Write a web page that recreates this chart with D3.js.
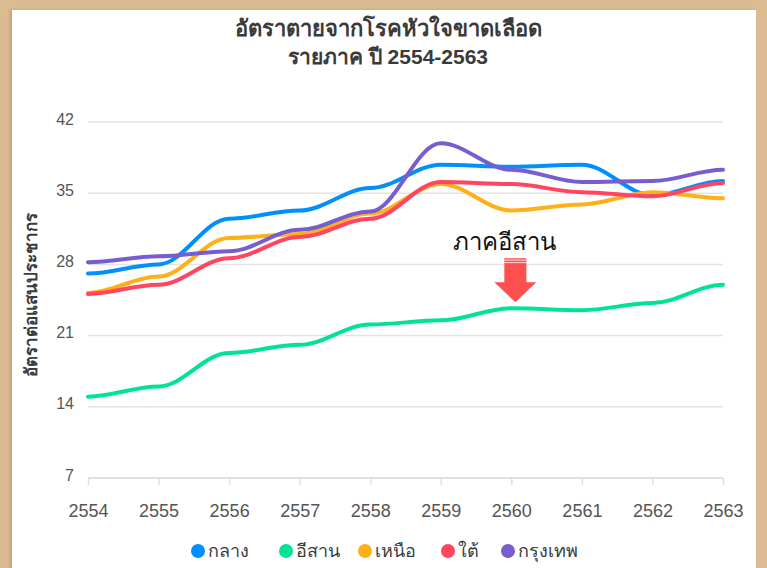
<!DOCTYPE html>
<html>
<head>
<meta charset="utf-8">
<script src="https://cdn.jsdelivr.net/npm/d3@7"></script>
<style>
  body { margin: 0; background: #dbbb91; }
  #frame { position: absolute; left: 12px; top: 10px; width: 744px; height: 570px; background: #fff; box-shadow: -2px 0 3px rgba(0,0,0,0.15); }
  svg { position: absolute; left: 0; top: 0; }
  text { font-family: "Liberation Sans", Arial, sans-serif; }
</style>
</head>
<body>
<div id="frame"></div>
<svg id="chart" width="767" height="568"></svg>
<script>
var years = [2554, 2555, 2556, 2557, 2558, 2559, 2560, 2561, 2562, 2563];
var yTicks = [7, 14, 21, 28, 35, 42];

var seriesNames = ["กลาง", "อีสาน", "เหนือ", "ใต้", "กรุงเทพ"];
var seriesColors = ["#008FFB", "#00E396", "#FEB019", "#FF4560", "#775DD0"];

var central = [27.1, 28.0, 32.5, 33.3, 35.5, 37.8, 37.6, 37.8, 34.8, 36.2];
var northeast = [15.0, 16.0, 19.3, 20.1, 22.1, 22.5, 23.7, 23.5, 24.2, 26.0];
var north = [25.2, 26.8, 30.6, 31.0, 33.0, 35.9, 33.3, 33.9, 35.1, 34.5];
var south = [25.1, 26.0, 28.6, 30.7, 32.5, 36.1, 35.9, 35.1, 34.7, 36.0];
var bangkok = [28.2, 28.8, 29.3, 31.4, 33.2, 39.9, 37.3, 36.1, 36.2, 37.3];

var seriesValues = [central, northeast, north, south, bangkok];

var svg = d3.select("#chart");

var margin = { top: 122, left: 88, right: 44, bottom: 90 };
var width = 767 - margin.left - margin.right;
var height = 568 - margin.top - margin.bottom;

var x = d3.scaleLinear().domain([years[0], years[years.length - 1]]).range([margin.left, margin.left + width]);
var y = d3.scaleLinear().domain([7, 42]).range([margin.top + height, margin.top]);

// smooth curve: horizontal tangents at each point
function SmoothX(context) { this._context = context; }
SmoothX.prototype = {
  areaStart: function() {}, areaEnd: function() {},
  lineStart: function() { this._point = 0; },
  lineEnd: function() {},
  point: function(px, py) {
    if (this._point === 0) { this._point = 1; this._context.moveTo(px, py); }
    else {
      var dx = px - this._x0;
      this._context.bezierCurveTo(this._x0 + dx * 0.35, this._y0, px - dx * 0.35, py, px, py);
    }
    this._x0 = px; this._y0 = py;
  }
};
var curveSmoothX = function(context) { return new SmoothX(context); };

// title
svg.append("text")
  .attr("x", 388).attr("y", 36)
  .attr("text-anchor", "middle")
  .attr("font-size", "22px").attr("font-weight", "bold")
  .attr("fill", "#3a3a3a")
  .text("อัตราตายจากโรคหัวใจขาดเลือด");
svg.append("text")
  .attr("x", 388).attr("y", 64)
  .attr("text-anchor", "middle")
  .attr("font-size", "21px").attr("font-weight", "bold")
  .attr("fill", "#3a3a3a")
  .text("รายภาค ปี 2554-2563");

// grid
svg.append("g")
  .selectAll("line")
  .data(yTicks.slice(1))
  .enter()
  .append("line")
  .attr("x1", x(years[0])).attr("x2", x(years[years.length - 1]))
  .attr("y1", d => y(d)).attr("y2", d => y(d))
  .attr("stroke", "#e3e3e3").attr("stroke-width", 1.5);

// y axis labels
var leftAxis = d3.axisLeft(y).tickValues(yTicks).tickSize(0).tickPadding(14);
var gy = svg.append("g")
  .attr("transform", `translate(${margin.left}, -3)`)
  .call(leftAxis);
gy.select(".domain").remove();
gy.selectAll("text").attr("font-size", "16px").attr("fill", "#555").attr("font-family", "Liberation Sans, Arial, sans-serif");

// x axis
var bottomAxis = d3.axisBottom(x).tickValues(years).tickFormat(d3.format("d")).tickSize(7).tickPadding(19);
var gx = svg.append("g")
  .attr("transform", `translate(0, ${y(7)})`)
  .call(bottomAxis);
gx.select(".domain").attr("stroke", "#e0e0e0").attr("stroke-width", 2).attr("d", `M${x(years[0])},0H${x(years[years.length - 1])}`);
gx.selectAll(".tick line").attr("stroke", "#e0e0e0").attr("stroke-width", 1.5);
gx.selectAll("text").attr("font-size", "18px").attr("fill", "#555").attr("font-family", "Liberation Sans, Arial, sans-serif");

// y axis title
svg.append("text")
  .attr("transform", `translate(37, ${y(25)}) rotate(-90)`)
  .attr("text-anchor", "middle")
  .attr("font-size", "17px").attr("font-weight", "bold")
  .attr("fill", "#373d3f")
  .text("อัตราต่อแสนประชากร");

// lines
var line = d3.line()
  .x((d, i) => x(years[i]))
  .y(d => y(d))
  .curve(curveSmoothX);

svg.append("g")
  .selectAll("path")
  .data(seriesValues)
  .enter()
  .append("path")
  .attr("d", d => line(d))
  .attr("fill", "none")
  .attr("stroke", (d, i) => seriesColors[i])
  .attr("stroke-width", 4)
  .attr("stroke-linecap", "round");

// annotation
var ax = x(2560) + 4;
var ay = y(northeast[6]) - 6;
svg.append("text")
  .attr("x", ax - 11).attr("y", ay - 52)
  .attr("text-anchor", "middle")
  .attr("font-size", "24px")
  .attr("fill", "#111")
  .text("ภาคอีสาน");
var arrow = svg.append("g").attr("transform", `translate(${ax}, ${ay})`);
arrow.append("path")
  .attr("d", "M-11,-44H11V-20H21L0,0L-21,-20H-11Z")
  .attr("fill", "#ff4f4f");
arrow.selectAll("line.stripe")
  .data([-42, -39.5])
  .enter()
  .append("line")
  .attr("x1", -11).attr("x2", 11)
  .attr("y1", d => d).attr("y2", d => d)
  .attr("stroke", "#fff").attr("stroke-width", 0.8);

// legend
var legendX = [198, 286, 365, 448, 508];
var legend = svg.append("g")
  .selectAll("g")
  .data(seriesNames)
  .enter()
  .append("g")
  .attr("transform", (d, i) => `translate(${legendX[i]}, 551)`);
legend.append("circle")
  .attr("r", 7)
  .attr("fill", (d, i) => seriesColors[i]);
legend.append("text")
  .attr("x", 10).attr("y", 6)
  .attr("font-size", "18px")
  .attr("fill", "#373d3f")
  .text(d => d);
</script>
</body>
</html>
